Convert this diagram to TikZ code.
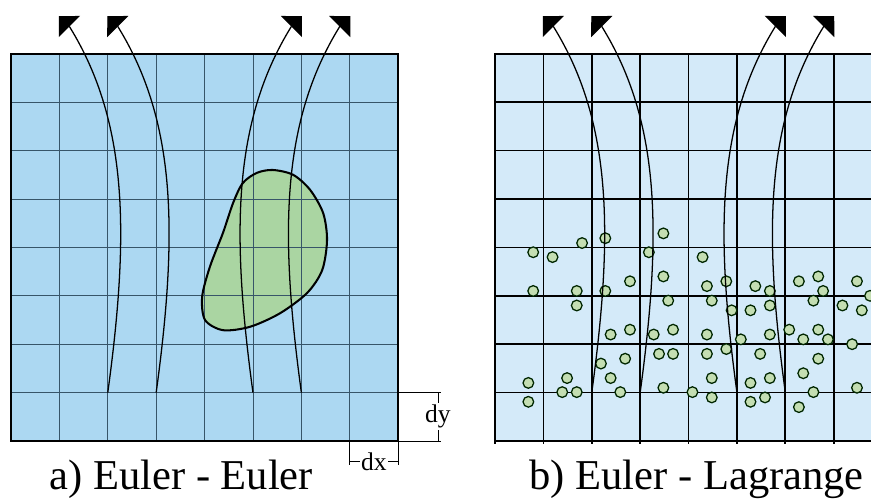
\documentclass[tikz,border=0pt]{standalone}
\usepackage{fontspec}
\setmainfont{Liberation Serif}
\newfontfamily\capfont{Liberation Serif}
\usetikzlibrary{arrows.meta}
\definecolor{eulerblue}{RGB}{172,216,242}
\definecolor{paleblue}{RGB}{212,234,249}
\definecolor{blobgreen}{RGB}{170,213,162}
\definecolor{dotgreen}{RGB}{196,222,178}
\definecolor{gridgray}{RGB}{55,85,105}

\tikzset{
  stream/.style={black,line width=0.75pt,-{Triangle[length=3.07mm,width=6.14mm]}},
  dimline/.style={black,line width=0.4pt},
  dimlabel/.style={fill=white,inner sep=1pt,font=\capfont\fontsize{15}{18}\selectfont},
  particle/.style={fill=dotgreen,draw=black!85!green,line width=0.75pt},
  caption/.style={anchor=base,font=\capfont\fontsize{25}{30}\selectfont}
}

\begin{document}
\begin{tikzpicture}
  \useasboundingbox (-0.227,-1.219) rectangle (17.77,9.112);
  % a) fluid phase and dispersed body both on the fixed grid
  \fill[eulerblue] (0,0) rectangle (8,8);
  \fill[blobgreen] plot[smooth cycle] coordinates {(4.79,5.33) (4.59,4.92) (4.38,4.30)
    (4.11,3.60) (3.95,2.98) (4.01,2.50) (4.38,2.29) (4.94,2.36) (5.56,2.64) (6.12,3.06)
    (6.43,3.53) (6.53,4.15) (6.45,4.71) (6.18,5.19) (5.83,5.50) (5.41,5.60) (5.08,5.54)};
  \draw[gridgray,line width=0.45pt] (0,0) grid (8,8);
  \draw[black,line width=1.2pt] plot[smooth cycle] coordinates {(4.79,5.33) (4.59,4.92) (4.38,4.30)
    (4.11,3.60) (3.95,2.98) (4.01,2.50) (4.38,2.29) (4.94,2.36) (5.56,2.64) (6.12,3.06)
    (6.43,3.53) (6.53,4.15) (6.45,4.71) (6.18,5.19) (5.83,5.50) (5.41,5.60) (5.08,5.54)};
  \draw[line width=1.2pt] (0,0) rectangle (8,8);
  % b) fluid on the grid, particles tracked one by one
  \fill[paleblue] (10,0) rectangle (18,8);
  \draw[black,line width=1pt] (10,-0.06) grid (18,8);
  \draw[line width=1.2pt] (10,0) rectangle (18,8);
  \foreach \px/\py in {10.79/3.90,11.19/3.80,11.80/4.09,12.28/4.19,13.48/4.29,13.18/3.90,
      14.29/3.80,10.79/3.10,11.69/3.10,11.69/2.80,12.28/3.10,12.79/3.30,13.48/3.40,
      13.58/2.90,14.38/3.20,14.48/2.90,14.78/3.30,14.89/2.70,15.38/3.20,15.28/2.70,
      15.68/3.10,15.68/2.80,16.28/3.30,16.68/3.40,16.78/3.10,16.58/2.90,17.48/3.30,
      17.18/2.80,17.58/2.70,17.75/3.00,12.39/2.20,12.79/2.30,13.28/2.20,13.68/2.30,
      14.38/2.20,15.08/2.10,15.68/2.20,16.08/2.30,16.37/2.10,16.68/2.30,16.88/2.10,
      17.38/2.00,12.19/1.60,12.69/1.70,13.39/1.80,13.68/1.80,14.38/1.80,14.78/1.90,
      15.48/1.80,16.68/1.70,10.69/1.20,10.69/0.81,11.49/1.30,11.39/1.01,11.69/1.01,
      12.39/1.30,12.59/1.01,13.48/1.10,14.08/1.01,14.48/1.30,14.48/0.90,15.28/1.20,
      15.28/0.81,15.58/0.90,15.68/1.30,16.37/1.40,16.58/1.01,16.28/0.70,17.48/1.10}
    \draw[particle] (\px,\py) circle (0.11);
  % streamlines, the same in both panels
  \foreach \bx in {0,10}{
    \foreach \s in {0,1}{
      \draw[stream] ({\bx+2+\s},1) .. controls ({\bx+2.45+\s},4.3) and ({\bx+2.42+\s},6.6)
        .. ({\bx+1.21+\s},8.56) -- ({\bx+0.99+\s},8.78);
      \draw[stream] ({\bx+6-\s},1) .. controls ({\bx+5.55-\s},4.3) and ({\bx+5.58-\s},6.6)
        .. ({\bx+6.79-\s},8.56) -- ({\bx+7.01-\s},8.78);}}
  % cell size
  \coordinate (dyTop) at (8.82,1);
  \coordinate (dyBot) at (8.82,0);
  \coordinate (dxLeft) at (7,-0.43);
  \coordinate (dxRight) at (8,-0.43);
  \draw[dimline] (8,1) -- (8.88,1) (8,0) -- (8.88,0);
  \draw[dimline] (7,0) -- (7,-0.5) (8,0) -- (8,-0.5);
  \draw[dimline] (dyTop) -- node[dimlabel]{dy} (dyBot);
  \draw[dimline] (dxLeft) -- node[dimlabel]{dx} (dxRight);
  \node[caption] (capEE) at (3.52,-1.01) {a) Euler - Euler};
  \node[caption] (capEL) at (14.17,-1.01) {b) Euler - Lagrange};
\end{tikzpicture}
\end{document}
